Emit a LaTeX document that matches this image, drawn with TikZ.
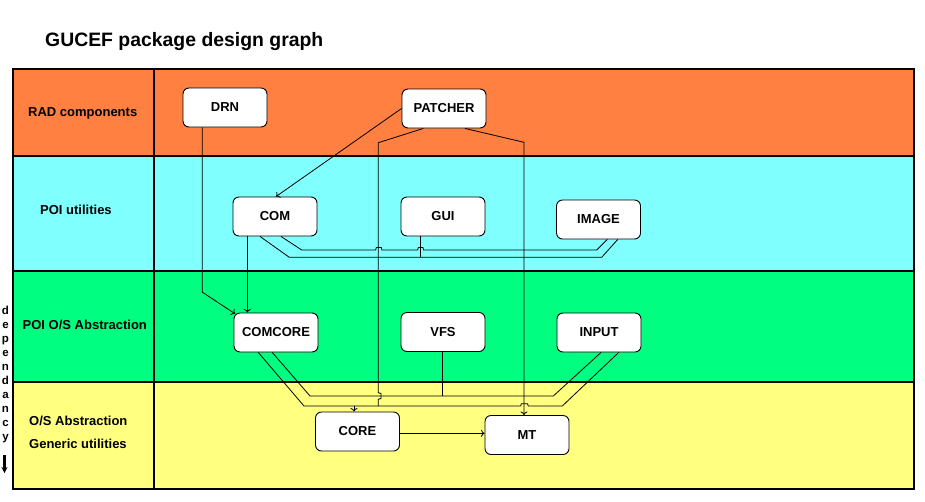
\documentclass[tikz,border=0pt]{standalone}
\usepackage{fontspec}
\setmainfont{Liberation Sans}
\usetikzlibrary{arrows.meta,calc}
\definecolor{bandorange}{HTML}{FF8040}
\definecolor{bandcyan}{HTML}{80FFFF}
\definecolor{bandgreen}{HTML}{00FF80}
\definecolor{bandyellow}{HTML}{FFFF80}
\tikzset{
  pkg/.style={draw=black, line width=0.9pt, fill=white, rounded corners=6pt,
    minimum width=84pt, minimum height=39pt, inner sep=0pt,
    font=\fontsize{13}{15}\selectfont\bfseries},
  lbl/.style={anchor=base west, inner sep=0pt, font=\fontsize{13}{15}\selectfont\bfseries},
  wire/.style={draw=black, line width=0.8pt},
  arr/.style={wire, -{To[length=3.5pt,width=7pt]}},
  grid/.style={draw=black, line width=1.1pt}
}
\begin{document}
\begin{tikzpicture}[x=1pt,y=-1pt]
\useasboundingbox (0,0) rectangle (925,501);
% bands
\fill[bandorange] (13,69) rectangle (914,156);
\fill[bandcyan] (13,156) rectangle (914,271);
\fill[bandgreen] (13,271) rectangle (914,382);
\fill[bandyellow] (13,382) rectangle (914,489);
\draw[grid] (13,69) rectangle (914,489);
\draw[grid] (13,156) -- (914,156);
\draw[grid] (13,271) -- (914,271);
\draw[grid] (13,382) -- (914,382);
\draw[grid] (154,69) -- (154,489);
% title
\node[anchor=base west, inner sep=0pt, font=\fontsize{19.4}{23}\selectfont\bfseries] (title) at (45,46) {GUCEF package design graph};
% row labels
\node[lbl] (lrad) at (28,116) {RAD components};
\node[lbl] (lpoi) at (40,214) {POI utilities};
\node[lbl] (lpoios) at (22.5,329) {POI O/S Abstraction};
\node[lbl] (los) at (29,425) {O/S Abstraction};
\node[lbl] (lgen) at (29,448) {Generic utilities};
% dependancy
\node[anchor=north, inner sep=0pt, align=center, font=\fontsize{11.5}{14}\selectfont\bfseries] (dep) at (5.5,305.5) {d\\e\\p\\e\\n\\d\\a\\n\\c\\y};
\coordinate (depa) at (4.5,455);
\coordinate (depb) at (4.5,473);
\draw[line width=2.2pt, -{Stealth[length=6pt,width=6pt]}] (depa) -- (depb);
% packages
\node[pkg] (drn) at (225,107.5) {DRN};
\node[pkg] (patcher) at (444,108.5) {PATCHER};
\node[pkg] (com) at (275,216.5) {COM};
\node[pkg] (gui) at (443,216.5) {GUI};
\node[pkg] (image) at (598.5,219.5) {IMAGE};
\node[pkg] (comcore) at (276,332.5) {COMCORE};
\node[pkg] (vfs) at (443,332) {VFS};
\node[pkg] (input) at (599,332.5) {INPUT};
\node[pkg] (core) at (357.5,431.5) {CORE};
\node[pkg] (mt) at (527,435) {MT};
% DRN -> COMCORE
\draw[arr] ($(drn.south)+(-22.7,0)$) -- ++(0,164.7) -- ($(comcore.north west)+(1.5,1.2)$);
% COM -> COMCORE
\draw[arr] ($(com.south)+(-27.7,0)$) coordinate (comdn) -- (comdn |- comcore.north);
% PATCHER -> COM
\draw[arr] (patcher.west) -- ($(com.north)+(1,0)$);
% PATCHER -> CORE (vertical, hop over bus A, joins bus B)
\draw[wire] ($(patcher.south)+(-20.7,0)$) -- (378.3,142.7) -- (378.3,392.7) -- (381,393.5) -- (381,398.5) -- (378.3,399.3) -- (378.3,406);
% PATCHER -> MT
\coordinate (pmbend) at (524,142.3);
\draw[arr] ($(patcher.south)+(21,0)$) -- (pmbend) -- (pmbend |- mt.north);
% COM - IMAGE upper line with hops
\draw[wire] ($(com.south)+(6,0)$) -- (301.7,250) -- (375.7,250) -- (376.3,247.5) -- (381.3,247.5) -- (381.9,250)
  -- (417.7,250) -- (418.3,247.5) -- (423,247.5) -- (423.6,250) -- (596.7,250) -- ($(image.south)+(8.8,0)$);
% COM - IMAGE lower line
\draw[wire] ($(com.south)+(-15,0)$) -- (289.3,257.3) -- (601.7,257.3) -- ($(image.south)+(19.2,0)$);
% GUI down to lower line
\draw[wire] ($(gui.south)+(-22.3,0)$) -- (420.7,257.3);
% COMCORE - INPUT line A
\draw[wire] ($(comcore.south)+(-3.7,0)$) -- (310,396) -- (553.3,396) -- ($(input.south)+(2,0)$);
% COMCORE - INPUT line B with hop over PATCHER->MT
\draw[wire] ($(comcore.south)+(-17.7,0)$) -- (304,406) -- (520.7,406) -- (521.3,403.8) -- (527.6,403.8) -- (528.2,406) -- (562.3,406) -- ($(input.south)+(19.7,0)$);
% VFS down to line A
\draw[wire] ($(vfs.south)+(-0.7,0)$) -- (442.3,396);
% bus to CORE
\draw[arr] ($(core.north)+(-3.5,-6)$) -- ($(core.north)+(-3.5,0)$);
% CORE -> MT
\draw[arr] ($(core.east)+(0,1.8)$) coordinate (coreout) -- (coreout -| mt.west);
\end{tikzpicture}
\end{document}
